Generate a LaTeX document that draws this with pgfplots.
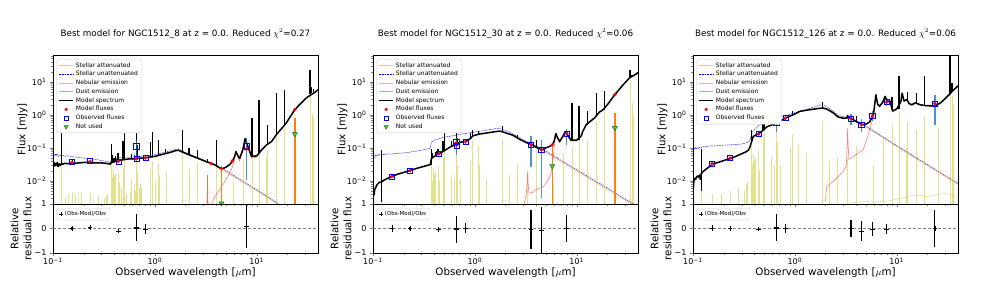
\documentclass[border=0pt]{standalone}
\usepackage{fontspec}
\setmainfont{DejaVu Sans}
\usepackage{pgfplots}
\pgfplotsset{compat=1.18}
\definecolor{cz}{HTML}{1F77B4}
\definecolor{co}{HTML}{FF7F0E}
\definecolor{neb}{rgb}{0.75,0.75,0}
\definecolor{mpgreen}{rgb}{0,0.5,0}
\definecolor{nufill}{rgb}{0.35,0.75,0.3}
\tikzset{
 stell/.style={orange, line width=0.6pt, opacity=0.6},
 unatt/.style={blue, line width=0.5pt, opacity=0.8, dash pattern=on 1.9pt off 0.8pt},
 nebst/.style={neb, line width=0.6pt, opacity=0.45},
 dustst/.style={red, line width=0.6pt, opacity=0.5},
 modst/.style={black, line width=1.5pt, line join=round},
 spst/.style={black, line width=1.3pt},
 errst/.style={cz, line width=1.5pt, opacity=0.8},
 nuerr/.style={co, line width=1.5pt},
 ticklab/.style={font=\fontsize{8}{9.5}\selectfont},
}
\begin{document}
\begin{tikzpicture}
\path[use as bounding box] (0,0) rectangle (981pt,307pt);
%==================== PANEL 1 ====================
\begin{axis}[at={(53pt,103pt)}, anchor=south west,
 scale only axis, width=265pt, height=149pt,
 xmode=log, ymode=log, xmin=0.1, xmax=40, ymin=0.002, ymax=64,
 xtick={0.1,1,10}, xticklabels={},
 minor xtick={0.2,0.3,0.4,0.5,0.6,0.7,0.8,0.9,2,3,4,5,6,7,8,9,20,30},
 ytick={0.01,0.1,1,10},
 yticklabels={10\textsuperscript{−2},10\textsuperscript{−1},10\textsuperscript{0},10\textsuperscript{1}},
 minor ytick={0.003,0.004,0.005,0.006,0.007,0.008,0.009,0.02,0.03,0.04,0.05,0.06,0.07,0.08,0.09,0.2,0.3,0.4,0.5,0.6,0.7,0.8,0.9,2,3,4,5,6,7,8,9,20,30,40,50,60},
 tick align=outside, xtick pos=left, ytick pos=left,
 major tick length=3pt, minor tick length=1.8pt,
 axis line style={line width=0.6pt},
 tick label style={ticklab},
 ylabel={Flux [mJy]},
 ylabel style={at={(axis description cs:-0.083,0.5)}, font=\fontsize{10.3}{12}\selectfont},
 title={Best model for NGC1512\_8 at z = 0.0. Reduced $\chi^2$=0.27},
 title style={font=\fontsize{8.8}{10}\selectfont, at={(axis description cs:0.5,1)}, anchor=center, yshift=15pt},
 legend cell align=left,
 legend image code/.code={\draw[mark repeat=2,mark phase=2,#1] plot coordinates {(0pt,0pt) (7pt,0pt) (14pt,0pt)};},
 legend style={at={(0.014,0.971)}, anchor=north west, draw=black!18, line width=0.4pt, rounded corners=1.5pt, fill=white, font=\fontsize{6}{7}\selectfont, inner xsep=1.5pt, inner ysep=1pt, row sep=-1.3pt},
]
\addlegendimage{color=orange, opacity=0.5, line width=1.2pt}\addlegendentry{Stellar attenuated}
\addlegendimage{color=blue, line width=0.6pt, dash pattern=on 1.9pt off 0.8pt}\addlegendentry{Stellar unattenuated}
\addlegendimage{color=neb, opacity=0.7, line width=0.7pt}\addlegendentry{Nebular emission}
\addlegendimage{color=red, opacity=0.45, line width=1.2pt}\addlegendentry{Dust emission}
\addlegendimage{color=black, line width=1.5pt}\addlegendentry{Model spectrum}
\addlegendimage{only marks, mark=*, mark size=1.4pt, red, mark options={draw=red, fill=red}}\addlegendentry{Model fluxes}
\addlegendimage{only marks, mark=square, mark size=2pt, blue, mark options={draw=blue, line width=0.6pt}}\addlegendentry{Observed fluxes}
\addlegendimage{only marks, mark=triangle*, mark size=2.4pt, mark options={rotate=180, draw=mpgreen, fill=nufill}}\addlegendentry{Not used}
\addplot[stell, forget plot] coordinates {(0.100,0.030)(0.11,0.033)(0.12,0.031)(0.15,0.034)(0.20,0.035)(0.30,0.034)(0.365,0.031)(0.375,0.036)(0.45,0.041)(0.60,0.045)(0.85,0.050)(1.0,0.054)(1.2,0.063)(1.6,0.080)(1.7,0.083)(1.8,0.076)(2.0,0.066)(2.37,0.053)(2.8,0.043)(3.6,0.032)(4.57,0.022)(6,0.0132)(8,0.0077)(10,0.005)(14,0.0026)(17,0.0018)(20,0.0013)(30,0.0006)(40,0.00035)};
\addplot[unatt, forget plot] coordinates {(0.100,0.050)(0.102,0.062)(0.104,0.055)(0.106,0.066)(0.108,0.058)(0.110,0.064)(0.113,0.055)(0.116,0.060)(0.12,0.056)(0.125,0.060)(0.13,0.055)(0.14,0.057)(0.15,0.055)(0.17,0.052)(0.20,0.049)(0.23,0.047)(0.26,0.045)(0.30,0.041)(0.33,0.039)(0.355,0.037)(0.365,0.036)(0.375,0.042)(0.40,0.046)(0.45,0.050)(0.50,0.052)(0.60,0.053)(0.70,0.055)(0.85,0.057)(1.0,0.062)(1.2,0.071)(1.4,0.080)(1.6,0.090)(1.7,0.093)(1.8,0.085)(2.0,0.073)(2.37,0.058)(2.8,0.047)(3.2,0.039)(3.6,0.034)(4.0,0.029)(4.57,0.024)(6,0.0143)(8,0.0083)(10,0.0054)(14,0.0028)(17,0.0019)(20,0.0014)(30,0.00065)(40,0.00038)};
\addplot[nebst, forget plot] coordinates {(0.1216,1e-4)(0.1216,0.035)(0.1216,1e-4)(0.1335,1e-4)(0.1335,0.003)(0.1335,1e-4)(0.1406,1e-4)(0.1406,0.0042)(0.1406,1e-4)(0.1549,1e-4)(0.1549,0.0045)(0.1549,1e-4)(0.1640,1e-4)(0.1640,0.004)(0.1640,1e-4)(0.1760,1e-4)(0.1760,0.0047)(0.1760,1e-4)(0.1909,1e-4)(0.1909,0.0045)(0.1909,1e-4)(0.2326,1e-4)(0.2326,0.0045)(0.2326,1e-4)(0.2470,1e-4)(0.2470,0.003)(0.2470,1e-4)(0.2800,1e-4)(0.2800,0.0035)(0.2800,1e-4)(0.3203,1e-4)(0.3203,0.003)(0.3203,1e-4)(0.3346,1e-4)(0.3346,0.0035)(0.3346,1e-4)(0.3426,1e-4)(0.3426,0.004)(0.3426,1e-4)(0.3727,1e-4)(0.3727,0.034)(0.3727,1e-4)(0.3750,1e-4)(0.3750,0.012)(0.3750,1e-4)(0.3771,1e-4)(0.3771,0.015)(0.3771,1e-4)(0.3798,1e-4)(0.3798,0.010)(0.3798,1e-4)(0.3835,1e-4)(0.3835,0.013)(0.3835,1e-4)(0.3869,1e-4)(0.3869,0.022)(0.3869,1e-4)(0.3889,1e-4)(0.3889,0.018)(0.3889,1e-4)(0.3970,1e-4)(0.3970,0.014)(0.3970,1e-4)(0.4026,1e-4)(0.4026,0.006)(0.4026,1e-4)(0.4069,1e-4)(0.4069,0.008)(0.4069,1e-4)(0.4102,1e-4)(0.4102,0.016)(0.4102,1e-4)(0.4340,1e-4)(0.4340,0.019)(0.4340,1e-4)(0.4363,1e-4)(0.4363,0.008)(0.4363,1e-4)(0.4471,1e-4)(0.4471,0.009)(0.4471,1e-4)(0.4686,1e-4)(0.4686,0.006)(0.4686,1e-4)(0.4861,1e-4)(0.4861,0.025)(0.4861,1e-4)(0.4959,1e-4)(0.4959,0.017)(0.4959,1e-4)(0.5007,1e-4)(0.5007,0.043)(0.5007,1e-4)(0.5200,1e-4)(0.5200,0.004)(0.5200,1e-4)(0.5755,1e-4)(0.5755,0.0045)(0.5755,1e-4)(0.5876,1e-4)(0.5876,0.012)(0.5876,1e-4)(0.6300,1e-4)(0.6300,0.008)(0.6300,1e-4)(0.6363,1e-4)(0.6363,0.005)(0.6363,1e-4)(0.6548,1e-4)(0.6548,0.016)(0.6548,1e-4)(0.6563,1e-4)(0.6563,0.045)(0.6563,1e-4)(0.6584,1e-4)(0.6584,0.025)(0.6584,1e-4)(0.6678,1e-4)(0.6678,0.007)(0.6678,1e-4)(0.6716,1e-4)(0.6716,0.018)(0.6716,1e-4)(0.6731,1e-4)(0.6731,0.014)(0.6731,1e-4)(0.7065,1e-4)(0.7065,0.006)(0.7065,1e-4)(0.7136,1e-4)(0.7136,0.008)(0.7136,1e-4)(0.7320,1e-4)(0.7320,0.006)(0.7320,1e-4)(0.9069,1e-4)(0.9069,0.025)(0.9069,1e-4)(0.9531,1e-4)(0.9531,0.040)(0.9531,1e-4)(1.005,1e-4)(1.005,0.010)(1.005,1e-4)(1.083,1e-4)(1.083,0.035)(1.083,1e-4)(1.094,1e-4)(1.094,0.015)(1.094,1e-4)(1.282,1e-4)(1.282,0.018)(1.282,1e-4)(1.875,1e-4)(1.875,0.087)(1.875,1e-4)(2.166,1e-4)(2.166,0.024)(2.166,1e-4)(2.626,1e-4)(2.626,0.038)(2.626,1e-4)(3.297,1e-4)(3.297,0.015)(3.297,1e-4)(4.052,1e-4)(4.052,0.055)(4.052,1e-4)(5.90,1e-4)(5.90,0.0086)(5.90,1e-4)(7.46,1e-4)(7.46,0.043)(7.46,1e-4)(8.99,1e-4)(8.99,0.069)(8.99,1e-4)(10.51,1e-4)(10.51,0.11)(10.51,1e-4)(12.37,1e-4)(12.37,0.05)(12.37,1e-4)(12.81,1e-4)(12.81,0.087)(12.81,1e-4)(15.56,1e-4)(15.56,0.28)(15.56,1e-4)(18.71,1e-4)(18.71,0.63)(18.71,1e-4)(33.48,1e-4)(33.48,5.1)(33.48,1e-4)(34.81,1e-4)(34.81,1.0)(34.81,1e-4)(36.01,1e-4)(36.01,0.8)(36.01,1e-4)};
\addplot[dustst, forget plot] coordinates {(3.20,0.0005)(3.27,0.004)(3.29,0.015)(3.31,0.004)(3.36,0.0005)(3.6,0.0017)(3.8,0.003)(4.3,0.0053)(5.0,0.011)(5.43,0.017)(5.8,0.027)(6.08,0.045)(6.25,0.07)(6.5,0.052)(6.8,0.040)(7.3,0.078)(7.7,0.18)(8.2,0.10)(8.9,0.049)(10,0.052)(11.2,0.082)(12.5,0.118)(14,0.150)(15.6,0.245)(19.5,0.555)(23.6,1.41)(30.6,3.2)(38.5,5.1)(40,5.7)};
\addplot[modst, forget plot] coordinates {(0.100,0.031)(0.102,0.036)(0.104,0.028)(0.106,0.034)(0.108,0.030)(0.110,0.036)(0.112,0.027)(0.115,0.033)(0.118,0.029)(0.121,0.034)(0.125,0.032)(0.13,0.034)(0.14,0.033)(0.15,0.035)(0.16,0.034)(0.18,0.035)(0.20,0.036)(0.23,0.036)(0.26,0.035)(0.30,0.035)(0.33,0.034)(0.355,0.033)(0.365,0.032)(0.375,0.037)(0.39,0.036)(0.41,0.040)(0.43,0.038)(0.45,0.042)(0.50,0.044)(0.55,0.046)(0.60,0.046)(0.66,0.047)(0.75,0.049)(0.85,0.051)(1.0,0.055)(1.2,0.064)(1.4,0.072)(1.6,0.082)(1.7,0.085)(1.8,0.078)(2.0,0.068)(2.37,0.055)(2.8,0.045)(3.2,0.038)(3.6,0.034)(4.0,0.029)(4.3,0.025)(4.57,0.023)(5.0,0.026)(5.43,0.031)(5.8,0.040)(6.08,0.055)(6.25,0.077)(6.5,0.060)(6.8,0.048)(7.3,0.087)(7.7,0.19)(8.2,0.11)(8.9,0.055)(10,0.057)(11.2,0.087)(12.5,0.123)(14,0.155)(15.6,0.25)(19.5,0.56)(23.6,1.42)(30.6,3.2)(38.5,5.1)(40,5.7)};
\addplot[spst, forget plot, unbounded coords=jump] coordinates {(0.1216,0.033)(0.1216,0.45)(0.1216,nan)(0.1549,0.035)(0.1549,0.045)(0.1549,nan)(0.3727,0.034)(0.3727,0.13)(0.3727,nan)(0.3869,0.036)(0.3869,0.06)(0.3869,nan)(0.3970,0.037)(0.3970,0.05)(0.3970,nan)(0.4102,0.040)(0.4102,0.055)(0.4102,nan)(0.4340,0.039)(0.4340,0.07)(0.4340,nan)(0.4861,0.043)(0.4861,0.16)(0.4861,nan)(0.4959,0.044)(0.4959,0.09)(0.4959,nan)(0.5007,0.044)(0.5007,0.30)(0.5007,nan)(0.5876,0.046)(0.5876,0.065)(0.5876,nan)(0.6300,0.046)(0.6300,0.06)(0.6300,nan)(0.6563,0.047)(0.6563,0.63)(0.6563,nan)(0.6716,0.047)(0.6716,0.12)(0.6716,nan)(0.9069,0.052)(0.9069,0.15)(0.9069,nan)(0.9531,0.054)(0.9531,0.30)(0.9531,nan)(1.083,0.058)(1.083,0.17)(1.083,nan)(1.282,0.066)(1.282,0.09)(1.282,nan)(1.875,0.075)(1.875,0.35)(1.875,nan)(2.166,0.063)(2.166,0.10)(2.166,nan)(2.626,0.048)(2.626,0.085)(2.626,nan)(3.297,0.037)(3.297,0.045)(3.297,nan)(4.052,0.028)(4.052,0.17)(4.052,nan)(8.99,0.055)(8.99,0.79)(8.99,nan)(10.51,0.065)(10.51,2.85)(10.51,nan)(12.81,0.125)(12.81,0.5)(12.81,nan)(15.56,0.25)(15.56,4.5)(15.56,nan)(18.71,0.50)(18.71,5.7)(18.71,nan)(33.48,4.2)(33.48,23)(33.48,nan)(34.81,4.6)(34.81,7)(34.81,nan)(36.0,4.9)(36.0,6)};
\addplot[errst, forget plot, unbounded coords=jump] coordinates {(0.154,0.034)(0.154,0.040)(0.154,nan)(0.657,0.05)(0.657,0.17)(0.657,nan)(0.81,0.04)(0.81,0.06)(0.81,nan)(7.96,0.011)(7.96,0.195)};
\addplot[nuerr, forget plot, unbounded coords=jump] coordinates {(4.5,0.0015)(4.5,0.022)(4.5,nan)(23.7,0.0015)(23.7,0.8)};
\addplot[only marks, mark=*, mark size=1.5pt, red, mark options={draw=red, fill=red}, forget plot] coordinates {(0.154,0.036)(0.231,0.039)(0.44,0.040)(0.657,0.046)(0.66,0.048)(0.81,0.050)(3.56,0.034)(4.5,0.024)(5.76,0.040)(7.96,0.093)(23.7,1.42)};
\addplot[only marks, mark=square, mark size=2.6pt, blue, mark options={draw=blue, line width=0.7pt}, forget plot] coordinates {(0.154,0.037)(0.231,0.040)(0.44,0.037)(0.657,0.11)(0.66,0.046)(0.81,0.049)(7.96,0.11)};
\addplot[only marks, mark=triangle*, mark size=2.8pt, mark options={rotate=180, draw=mpgreen, fill=nufill, line width=0.5pt}, forget plot] coordinates {(4.5,0.0021)(23.7,0.26)};
\end{axis}
\begin{axis}[at={(53pt,54pt)}, anchor=south west,
 scale only axis, width=265pt, height=49pt,
 xmode=log, xmin=0.1, xmax=40, ymin=-1, ymax=1,
 xtick={0.1,1,10}, xticklabels={10\textsuperscript{−1},10\textsuperscript{0},10\textsuperscript{1}},
 minor xtick={0.2,0.3,0.4,0.5,0.6,0.7,0.8,0.9,2,3,4,5,6,7,8,9,20,30},
 ytick={-1,0,1}, yticklabels={−1,0,1},
 tick align=outside, xtick pos=left, ytick pos=left,
 major tick length=3pt, minor tick length=1.8pt,
 axis line style={line width=0.6pt},
 tick label style={ticklab},
 xticklabel style={inner sep=1.5pt},
 xlabel={Observed wavelength [$\mu$m]},
 xlabel style={at={(axis description cs:0.5,0)}, anchor=center, yshift=-19.5pt, font=\fontsize{10.3}{12}\selectfont},
 ylabel={Relative\\residual flux},
 ylabel style={at={(axis description cs:-0.068,0.5)}, align=center, font=\fontsize{10.3}{13}\selectfont},
 legend cell align=left,
 legend style={at={(0.014,0.918)}, anchor=north west, draw=black!18, line width=0.4pt, rounded corners=1.5pt, fill=white, font=\fontsize{5.5}{6.5}\selectfont, inner xsep=2pt, inner ysep=1pt},
]
\addlegendimage{only marks, mark=+, mark size=2pt, black, mark options={line width=0.8pt}}\addlegendentry{(Obs-Mod)/Obs}
\addplot[gray, line width=0.8pt, dash pattern=on 3pt off 2pt, forget plot] coordinates {(0.1,0)(40,0)};
\addplot[only marks, mark=+, mark size=2.3pt, black, mark options={line width=0.6pt}, forget plot, error bars/.cd, y dir=both, y explicit, error mark=none, error bar style={line width=1.2pt}] coordinates {(0.154,0.0) +- (0,0.08) (0.231,0.04) +- (0,0.04) (0.44,-0.1) +- (0,0.05) (0.657,0.03) +- (0,0.55) (0.66,0.0) +- (0,0.1) (0.81,-0.03) +- (0,0.2) (7.96,0.1) +- (0,0.88)};
\end{axis}
%==================== PANEL 2 ====================
\begin{axis}[at={(373pt,103pt)}, anchor=south west,
 scale only axis, width=265pt, height=149pt,
 xmode=log, ymode=log, xmin=0.1, xmax=40, ymin=0.002, ymax=64,
 xtick={0.1,1,10}, xticklabels={},
 minor xtick={0.2,0.3,0.4,0.5,0.6,0.7,0.8,0.9,2,3,4,5,6,7,8,9,20,30},
 ytick={0.01,0.1,1,10},
 yticklabels={10\textsuperscript{−2},10\textsuperscript{−1},10\textsuperscript{0},10\textsuperscript{1}},
 minor ytick={0.003,0.004,0.005,0.006,0.007,0.008,0.009,0.02,0.03,0.04,0.05,0.06,0.07,0.08,0.09,0.2,0.3,0.4,0.5,0.6,0.7,0.8,0.9,2,3,4,5,6,7,8,9,20,30,40,50,60},
 tick align=outside, xtick pos=left, ytick pos=left,
 major tick length=3pt, minor tick length=1.8pt,
 axis line style={line width=0.6pt},
 tick label style={ticklab},
 ylabel={Flux [mJy]},
 ylabel style={at={(axis description cs:-0.083,0.5)}, font=\fontsize{10.3}{12}\selectfont},
 title={Best model for NGC1512\_30 at z = 0.0. Reduced $\chi^2$=0.06},
 title style={font=\fontsize{8.8}{10}\selectfont, at={(axis description cs:0.5,1)}, anchor=center, yshift=15pt},
 legend cell align=left,
 legend image code/.code={\draw[mark repeat=2,mark phase=2,#1] plot coordinates {(0pt,0pt) (7pt,0pt) (14pt,0pt)};},
 legend style={at={(0.014,0.971)}, anchor=north west, draw=black!18, line width=0.4pt, rounded corners=1.5pt, fill=white, font=\fontsize{6}{7}\selectfont, inner xsep=1.5pt, inner ysep=1pt, row sep=-1.3pt},
]
\addlegendimage{color=orange, opacity=0.5, line width=1.2pt}\addlegendentry{Stellar attenuated}
\addlegendimage{color=blue, line width=0.6pt, dash pattern=on 1.9pt off 0.8pt}\addlegendentry{Stellar unattenuated}
\addlegendimage{color=neb, opacity=0.7, line width=0.7pt}\addlegendentry{Nebular emission}
\addlegendimage{color=red, opacity=0.45, line width=1.2pt}\addlegendentry{Dust emission}
\addlegendimage{color=black, line width=1.5pt}\addlegendentry{Model spectrum}
\addlegendimage{only marks, mark=*, mark size=1.4pt, red, mark options={draw=red, fill=red}}\addlegendentry{Model fluxes}
\addlegendimage{only marks, mark=square, mark size=2pt, blue, mark options={draw=blue, line width=0.6pt}}\addlegendentry{Observed fluxes}
\addlegendimage{only marks, mark=triangle*, mark size=2.4pt, mark options={rotate=180, draw=mpgreen, fill=nufill}}\addlegendentry{Not used}
\addplot[stell, forget plot] coordinates {(0.100,0.0032)(0.104,0.0055)(0.11,0.0078)(0.12,0.0090)(0.14,0.012)(0.2,0.018)(0.31,0.027)(0.365,0.031)(0.375,0.048)(0.44,0.066)(0.57,0.105)(0.66,0.135)(0.83,0.16)(0.96,0.23)(1.3,0.28)(1.76,0.32)(2.1,0.27)(2.76,0.18)(3.6,0.123)(4.6,0.085)(6,0.051)(8,0.030)(10,0.020)(15,0.0094)(20,0.0056)(30,0.0026)(40,0.0016)};
\addplot[unatt, forget plot] coordinates {(0.100,0.028)(0.101,0.045)(0.102,0.055)(0.104,0.050)(0.106,0.060)(0.108,0.056)(0.110,0.062)(0.113,0.058)(0.116,0.063)(0.12,0.060)(0.125,0.064)(0.13,0.062)(0.14,0.066)(0.15,0.064)(0.17,0.068)(0.20,0.070)(0.23,0.074)(0.27,0.080)(0.31,0.086)(0.35,0.094)(0.365,0.097)(0.375,0.15)(0.40,0.17)(0.45,0.19)(0.50,0.21)(0.60,0.23)(0.70,0.25)(0.80,0.27)(1.0,0.30)(1.3,0.34)(1.6,0.38)(1.76,0.38)(1.9,0.35)(2.1,0.31)(2.4,0.26)(2.76,0.20)(3.1,0.165)(3.6,0.135)(4.1,0.11)(4.6,0.092)(6,0.0557)(8,0.0329)(10,0.0217)(15,0.0102)(20,0.0061)(30,0.0028)(40,0.0017)};
\addplot[nebst, forget plot] coordinates {(0.1216,1e-4)(0.1216,0.004)(0.1216,1e-4)(0.3727,1e-4)(0.3727,0.04)(0.3727,1e-4)(0.3750,1e-4)(0.3750,0.012)(0.3750,1e-4)(0.3771,1e-4)(0.3771,0.010)(0.3771,1e-4)(0.3798,1e-4)(0.3798,0.008)(0.3798,1e-4)(0.3835,1e-4)(0.3835,0.01)(0.3835,1e-4)(0.3869,1e-4)(0.3869,0.025)(0.3869,1e-4)(0.3889,1e-4)(0.3889,0.02)(0.3889,1e-4)(0.3970,1e-4)(0.3970,0.015)(0.3970,1e-4)(0.4102,1e-4)(0.4102,0.02)(0.4102,1e-4)(0.4340,1e-4)(0.4340,0.03)(0.4340,1e-4)(0.4471,1e-4)(0.4471,0.01)(0.4471,1e-4)(0.4861,1e-4)(0.4861,0.05)(0.4861,1e-4)(0.4959,1e-4)(0.4959,0.04)(0.4959,1e-4)(0.5007,1e-4)(0.5007,0.10)(0.5007,1e-4)(0.5876,1e-4)(0.5876,0.015)(0.5876,1e-4)(0.6300,1e-4)(0.6300,0.012)(0.6300,1e-4)(0.6548,1e-4)(0.6548,0.03)(0.6548,1e-4)(0.6563,1e-4)(0.6563,0.087)(0.6563,1e-4)(0.6584,1e-4)(0.6584,0.05)(0.6584,1e-4)(0.6716,1e-4)(0.6716,0.03)(0.6716,1e-4)(0.6731,1e-4)(0.6731,0.025)(0.6731,1e-4)(0.7136,1e-4)(0.7136,0.012)(0.7136,1e-4)(0.9069,1e-4)(0.9069,0.04)(0.9069,1e-4)(0.9531,1e-4)(0.9531,0.17)(0.9531,1e-4)(1.083,1e-4)(1.083,0.11)(1.083,1e-4)(1.094,1e-4)(1.094,0.03)(1.094,1e-4)(1.282,1e-4)(1.282,0.012)(1.282,1e-4)(1.875,1e-4)(1.875,0.17)(1.875,1e-4)(2.166,1e-4)(2.166,0.015)(2.166,1e-4)(2.626,1e-4)(2.626,0.031)(2.626,1e-4)(3.297,1e-4)(3.297,0.01)(3.297,1e-4)(4.052,1e-4)(4.052,0.087)(4.052,1e-4)(5.90,1e-4)(5.90,0.01)(5.90,1e-4)(7.46,1e-4)(7.46,0.069)(7.46,1e-4)(8.99,1e-4)(8.99,0.11)(8.99,1e-4)(10.51,1e-4)(10.51,0.195)(10.51,1e-4)(12.81,1e-4)(12.81,0.17)(12.81,1e-4)(15.56,1e-4)(15.56,0.63)(15.56,1e-4)(18.71,1e-4)(18.71,1.6)(18.71,1e-4)(33.48,1e-4)(33.48,13)(33.48,1e-4)(34.81,1e-4)(34.81,2.3)(34.81,1e-4)(36.01,1e-4)(36.01,0.9)(36.01,1e-4)};
\addplot[dustst, forget plot] coordinates {(2.80,0.0005)(3.0,0.0015)(3.2,0.004)(3.27,0.010)(3.3,0.020)(3.34,0.008)(3.4,0.0042)(3.7,0.0045)(4.0,0.0055)(4.7,0.0067)(5.2,0.010)(5.6,0.017)(5.85,0.04)(6.0,0.10)(6.25,0.26)(6.5,0.19)(6.8,0.145)(7.3,0.21)(7.7,0.29)(7.9,0.29)(8.3,0.21)(8.8,0.16)(9.5,0.16)(10,0.16)(11.1,0.22)(11.4,0.29)(12.4,0.49)(13.3,0.59)(15,0.79)(16.7,1.19)(18.1,1.4)(20,2.0)(23.6,4.0)(28,7.5)(33,13)(38.4,17)(40,19)};
\addplot[modst, forget plot] coordinates {(0.100,0.0032)(0.101,0.0045)(0.1025,0.0038)(0.104,0.0055)(0.106,0.0062)(0.108,0.0070)(0.110,0.0078)(0.113,0.0085)(0.116,0.0092)(0.12,0.0090)(0.125,0.0100)(0.13,0.0108)(0.14,0.0120)(0.152,0.0135)(0.17,0.0155)(0.20,0.0180)(0.23,0.0205)(0.27,0.024)(0.31,0.027)(0.35,0.030)(0.365,0.031)(0.375,0.048)(0.39,0.052)(0.41,0.058)(0.44,0.066)(0.48,0.075)(0.52,0.088)(0.57,0.105)(0.62,0.12)(0.66,0.135)(0.74,0.15)(0.83,0.16)(0.90,0.19)(0.96,0.23)(1.1,0.26)(1.3,0.28)(1.5,0.30)(1.76,0.32)(1.9,0.30)(2.1,0.27)(2.37,0.24)(2.76,0.18)(3.1,0.15)(3.6,0.125)(4.1,0.10)(4.6,0.087)(5.0,0.10)(5.43,0.11)(5.7,0.12)(6.0,0.155)(6.25,0.27)(6.5,0.20)(6.8,0.155)(7.3,0.22)(7.7,0.30)(7.9,0.30)(8.3,0.22)(8.8,0.17)(9.5,0.17)(10,0.17)(11.1,0.23)(11.4,0.30)(12.4,0.50)(13.3,0.60)(15,0.80)(16.7,1.20)(18.1,1.4)(20,2.0)(23.6,4.0)(28,7.5)(33,13)(38.4,17)(40,19)};
\addplot[spst, forget plot, unbounded coords=jump] coordinates {(0.1216,0.0023)(0.1216,0.085)(0.1216,nan)(0.3727,0.031)(0.3727,0.09)(0.3727,nan)(0.3869,0.05)(0.3869,0.07)(0.3869,nan)(0.4102,0.057)(0.4102,0.075)(0.4102,nan)(0.4340,0.062)(0.4340,0.09)(0.4340,nan)(0.4861,0.077)(0.4861,0.16)(0.4861,nan)(0.5007,0.085)(0.5007,0.40)(0.5007,nan)(0.5876,0.11)(0.5876,0.16)(0.5876,nan)(0.6563,0.135)(0.6563,0.44)(0.6563,nan)(0.6716,0.14)(0.6716,0.2)(0.6716,nan)(0.9069,0.19)(0.9069,0.28)(0.9069,nan)(0.9531,0.22)(0.9531,0.35)(0.9531,nan)(1.083,0.25)(1.083,0.32)(1.083,nan)(1.875,0.30)(1.875,0.45)(1.875,nan)(2.626,0.20)(2.626,0.24)(2.626,nan)(4.052,0.10)(4.052,0.17)(4.052,nan)(8.99,0.17)(8.99,2.3)(8.99,nan)(10.51,0.17)(10.51,1.9)(10.51,nan)(12.81,0.52)(12.81,1.3)(12.81,nan)(15.56,0.85)(15.56,4.5)(15.56,nan)(18.71,1.4)(18.71,5.1)(18.71,nan)(33.48,13)(33.48,23)(33.48,nan)(34.81,14)(34.81,16)};
\addplot[errst, forget plot, unbounded coords=jump] coordinates {(0.154,0.012)(0.154,0.0155)(0.154,nan)(0.657,0.06)(0.657,0.2)(0.657,nan)(0.81,0.13)(0.81,0.18)(0.81,nan)(3.56,0.027)(3.56,0.23)(3.56,nan)(4.5,0.003)(4.5,0.17)(4.5,nan)(7.96,0.12)(7.96,0.36)};
\addplot[nuerr, forget plot, unbounded coords=jump] coordinates {(5.76,0.0015)(5.76,0.11)(5.76,nan)(23.7,0.0015)(23.7,1.12)};
\addplot[only marks, mark=*, mark size=1.5pt, red, mark options={draw=red, fill=red}, forget plot] coordinates {(0.154,0.0135)(0.231,0.0205)(0.44,0.066)(0.657,0.14)(0.66,0.118)(0.81,0.155)(3.56,0.123)(4.5,0.087)(5.76,0.123)(7.96,0.27)(23.7,4.0)};
\addplot[only marks, mark=square, mark size=2.6pt, blue, mark options={draw=blue, line width=0.7pt}, forget plot] coordinates {(0.154,0.0135)(0.231,0.0205)(0.44,0.066)(0.657,0.15)(0.66,0.115)(0.81,0.155)(3.56,0.125)(4.5,0.085)(7.96,0.265)};
\addplot[only marks, mark=triangle*, mark size=2.8pt, mark options={rotate=180, draw=mpgreen, fill=nufill, line width=0.5pt}, forget plot] coordinates {(5.76,0.028)(23.7,0.4)};
\end{axis}
\begin{axis}[at={(373pt,54pt)}, anchor=south west,
 scale only axis, width=265pt, height=49pt,
 xmode=log, xmin=0.1, xmax=40, ymin=-1, ymax=1,
 xtick={0.1,1,10}, xticklabels={10\textsuperscript{−1},10\textsuperscript{0},10\textsuperscript{1}},
 minor xtick={0.2,0.3,0.4,0.5,0.6,0.7,0.8,0.9,2,3,4,5,6,7,8,9,20,30},
 ytick={-1,0,1}, yticklabels={−1,0,1},
 tick align=outside, xtick pos=left, ytick pos=left,
 major tick length=3pt, minor tick length=1.8pt,
 axis line style={line width=0.6pt},
 tick label style={ticklab},
 xticklabel style={inner sep=1.5pt},
 xlabel={Observed wavelength [$\mu$m]},
 xlabel style={at={(axis description cs:0.5,0)}, anchor=center, yshift=-19.5pt, font=\fontsize{10.3}{12}\selectfont},
 ylabel={Relative\\residual flux},
 ylabel style={at={(axis description cs:-0.068,0.5)}, align=center, font=\fontsize{10.3}{13}\selectfont},
 legend cell align=left,
 legend style={at={(0.014,0.918)}, anchor=north west, draw=black!18, line width=0.4pt, rounded corners=1.5pt, fill=white, font=\fontsize{5.5}{6.5}\selectfont, inner xsep=2pt, inner ysep=1pt},
]
\addlegendimage{only marks, mark=+, mark size=2pt, black, mark options={line width=0.8pt}}\addlegendentry{(Obs-Mod)/Obs}
\addplot[gray, line width=0.8pt, dash pattern=on 3pt off 2pt, forget plot] coordinates {(0.1,0)(40,0)};
\addplot[only marks, mark=+, mark size=2.3pt, black, mark options={line width=0.6pt}, forget plot, error bars/.cd, y dir=both, y explicit, error mark=none, error bar style={line width=1.2pt}] coordinates {(0.154,0.0) +- (0,0.16) (0.231,0.0) +- (0,0.05) (0.44,-0.04) +- (0,0.03) (0.657,-0.05) +- (0,0.55) (0.66,0.0) +- (0,0.1) (0.81,0.02) +- (0,0.2) (3.56,-0.03) +- (0,0.8) (4.5,-0.07) +- (0,0.95) (7.96,0.0) +- (0,0.56)};
\end{axis}
%==================== PANEL 3 ====================
\begin{axis}[at={(693pt,103pt)}, anchor=south west,
 scale only axis, width=265pt, height=149pt,
 xmode=log, ymode=log, xmin=0.1, xmax=40, ymin=0.002, ymax=64,
 xtick={0.1,1,10}, xticklabels={},
 minor xtick={0.2,0.3,0.4,0.5,0.6,0.7,0.8,0.9,2,3,4,5,6,7,8,9,20,30},
 ytick={0.01,0.1,1,10},
 yticklabels={10\textsuperscript{−2},10\textsuperscript{−1},10\textsuperscript{0},10\textsuperscript{1}},
 minor ytick={0.003,0.004,0.005,0.006,0.007,0.008,0.009,0.02,0.03,0.04,0.05,0.06,0.07,0.08,0.09,0.2,0.3,0.4,0.5,0.6,0.7,0.8,0.9,2,3,4,5,6,7,8,9,20,30,40,50,60},
 tick align=outside, xtick pos=left, ytick pos=left,
 major tick length=3pt, minor tick length=1.8pt,
 axis line style={line width=0.6pt},
 tick label style={ticklab},
 ylabel={Flux [mJy]},
 ylabel style={at={(axis description cs:-0.083,0.5)}, font=\fontsize{10.3}{12}\selectfont},
 title={Best model for NGC1512\_126 at z = 0.0. Reduced $\chi^2$=0.06},
 title style={font=\fontsize{8.8}{10}\selectfont, at={(axis description cs:0.5,1)}, anchor=center, yshift=15pt},
 legend cell align=left,
 legend image code/.code={\draw[mark repeat=2,mark phase=2,#1] plot coordinates {(0pt,0pt) (7pt,0pt) (14pt,0pt)};},
 legend style={at={(0.014,0.971)}, anchor=north west, draw=black!18, line width=0.4pt, rounded corners=1.5pt, fill=white, font=\fontsize{6}{7}\selectfont, inner xsep=1.5pt, inner ysep=1pt, row sep=-1.3pt},
]
\addlegendimage{color=orange, opacity=0.5, line width=1.2pt}\addlegendentry{Stellar attenuated}
\addlegendimage{color=blue, line width=0.6pt, dash pattern=on 1.9pt off 0.8pt}\addlegendentry{Stellar unattenuated}
\addlegendimage{color=neb, opacity=0.7, line width=0.7pt}\addlegendentry{Nebular emission}
\addlegendimage{color=red, opacity=0.45, line width=1.2pt}\addlegendentry{Dust emission}
\addlegendimage{color=black, line width=1.5pt}\addlegendentry{Model spectrum}
\addlegendimage{only marks, mark=*, mark size=1.4pt, red, mark options={draw=red, fill=red}}\addlegendentry{Model fluxes}
\addlegendimage{only marks, mark=square, mark size=2pt, blue, mark options={draw=blue, line width=0.6pt}}\addlegendentry{Observed fluxes}
\addplot[stell, forget plot] coordinates {(0.100,0.004)(0.102,0.010)(0.11,0.014)(0.12,0.016)(0.14,0.025)(0.2,0.041)(0.31,0.069)(0.35,0.085)(0.37,0.13)(0.39,0.21)(0.45,0.27)(0.53,0.42)(0.66,0.57)(0.83,0.80)(1.12,1.24)(1.9,1.56)(2.4,1.10)(2.67,0.84)(3.66,0.74)(4.6,0.49)(6,0.30)(8,0.168)(10,0.109)(15,0.050)(20,0.029)(30,0.0134)(40,0.0078)};
\addplot[unatt, forget plot] coordinates {(0.100,0.080)(0.102,0.10)(0.104,0.088)(0.106,0.105)(0.108,0.095)(0.110,0.10)(0.113,0.092)(0.116,0.105)(0.12,0.10)(0.125,0.11)(0.13,0.105)(0.14,0.112)(0.15,0.115)(0.17,0.115)(0.20,0.12)(0.25,0.125)(0.30,0.13)(0.33,0.14)(0.35,0.15)(0.36,0.165)(0.37,0.22)(0.39,0.33)(0.42,0.40)(0.45,0.50)(0.50,0.58)(0.60,0.70)(0.70,0.84)(0.83,0.95)(1.0,1.15)(1.2,1.35)(1.5,1.65)(1.8,2.0)(1.9,1.95)(2.1,1.7)(2.4,1.25)(2.67,0.95)(3.0,0.87)(3.66,0.80)(4.0,0.66)(4.6,0.53)(6,0.32)(8,0.18)(10,0.117)(15,0.054)(20,0.031)(30,0.0144)(40,0.0084)};
\addplot[nebst, forget plot] coordinates {(0.1216,1e-4)(0.1216,0.0067)(0.1216,1e-4)(0.1549,1e-4)(0.1549,0.004)(0.1549,1e-4)(0.1909,1e-4)(0.1909,0.004)(0.1909,1e-4)(0.2326,1e-4)(0.2326,0.005)(0.2326,1e-4)(0.2800,1e-4)(0.2800,0.006)(0.2800,1e-4)(0.3203,1e-4)(0.3203,0.005)(0.3203,1e-4)(0.3346,1e-4)(0.3346,0.008)(0.3346,1e-4)(0.3426,1e-4)(0.3426,0.01)(0.3426,1e-4)(0.3727,1e-4)(0.3727,0.11)(0.3727,1e-4)(0.3750,1e-4)(0.3750,0.02)(0.3750,1e-4)(0.3771,1e-4)(0.3771,0.03)(0.3771,1e-4)(0.3798,1e-4)(0.3798,0.025)(0.3798,1e-4)(0.3835,1e-4)(0.3835,0.03)(0.3835,1e-4)(0.3869,1e-4)(0.3869,0.05)(0.3869,1e-4)(0.3889,1e-4)(0.3889,0.06)(0.3889,1e-4)(0.3970,1e-4)(0.3970,0.04)(0.3970,1e-4)(0.4026,1e-4)(0.4026,0.012)(0.4026,1e-4)(0.4069,1e-4)(0.4069,0.02)(0.4069,1e-4)(0.4102,1e-4)(0.4102,0.05)(0.4102,1e-4)(0.4340,1e-4)(0.4340,0.09)(0.4340,1e-4)(0.4363,1e-4)(0.4363,0.015)(0.4363,1e-4)(0.4471,1e-4)(0.4471,0.02)(0.4471,1e-4)(0.4861,1e-4)(0.4861,0.2)(0.4861,1e-4)(0.4959,1e-4)(0.4959,0.15)(0.4959,1e-4)(0.5007,1e-4)(0.5007,0.5)(0.5007,1e-4)(0.5876,1e-4)(0.5876,0.05)(0.5876,1e-4)(0.6300,1e-4)(0.6300,0.03)(0.6300,1e-4)(0.6548,1e-4)(0.6548,0.2)(0.6548,1e-4)(0.6563,1e-4)(0.6563,0.89)(0.6563,1e-4)(0.6584,1e-4)(0.6584,0.4)(0.6584,1e-4)(0.6716,1e-4)(0.6716,0.15)(0.6716,1e-4)(0.6731,1e-4)(0.6731,0.12)(0.6731,1e-4)(0.7136,1e-4)(0.7136,0.03)(0.7136,1e-4)(0.9069,1e-4)(0.9069,0.1)(0.9069,1e-4)(0.9531,1e-4)(0.9531,0.25)(0.9531,1e-4)(1.083,1e-4)(1.083,0.12)(1.083,1e-4)(1.282,1e-4)(1.282,0.07)(1.282,1e-4)(1.875,1e-4)(1.875,0.63)(1.875,1e-4)(2.166,1e-4)(2.166,0.04)(2.166,1e-4)(2.626,1e-4)(2.626,0.05)(2.626,1e-4)(3.297,1e-4)(3.297,0.05)(3.297,1e-4)(4.052,1e-4)(4.052,0.11)(4.052,1e-4)(5.90,1e-4)(5.90,0.03)(5.90,1e-4)(7.46,1e-4)(7.46,0.2)(7.46,1e-4)(8.99,1e-4)(8.99,0.5)(8.99,1e-4)(10.51,1e-4)(10.51,1.27)(10.51,1e-4)(12.37,1e-4)(12.37,0.1)(12.37,1e-4)(12.81,1e-4)(12.81,0.6)(12.81,1e-4)(15.56,1e-4)(15.56,0.34)(15.56,1e-4)(18.71,1e-4)(18.71,0.9)(18.71,1e-4)(25.89,1e-4)(25.89,0.4)(25.89,1e-4)(33.48,1e-4)(33.48,5.7)(33.48,1e-4)(34.81,1e-4)(34.81,3.6)(34.81,1e-4)(36.01,1e-4)(36.01,2.0)(36.01,1e-4)};
\addplot[nebst, forget plot] coordinates {(2.5,0.0015)(3.0,0.0019)(4,0.0023)(5,0.0024)(6,0.0023)(7.35,0.0024)(9,0.0026)(11.5,0.003)(13,0.0034)(15.3,0.0037)(17,0.0036)(19.5,0.0033)(22,0.0036)(26.6,0.0040)(30,0.0041)(35,0.0037)(40,0.0033)};
\addplot[dustst, forget plot] coordinates {(2.0,0.0025)(2.05,0.0067)(2.5,0.011)(3.0,0.020)(3.2,0.028)(3.27,0.15)(3.3,0.40)(3.33,0.12)(3.4,0.045)(4.0,0.062)(4.67,0.087)(5.2,0.22)(5.6,0.5)(5.9,0.85)(6.1,2.1)(6.25,3.9)(6.5,2.0)(6.8,1.7)(7.3,2.3)(7.7,3.5)(8.1,2.35)(8.6,2.45)(9.1,1.22)(10,1.42)(11.0,2.4)(11.3,4.4)(11.8,2.5)(12.6,2.8)(13.2,2.1)(14,1.9)(15.3,2.2)(17,1.95)(19,1.85)(22,1.8)(24.3,1.85)(27,2.25)(30,3.05)(32.6,3.95)(36,5.45)(40,7.45)};
\addplot[modst, forget plot] coordinates {(0.100,0.004)(0.1005,0.008)(0.101,0.006)(0.102,0.010)(0.104,0.012)(0.106,0.011)(0.108,0.013)(0.110,0.014)(0.113,0.013)(0.116,0.015)(0.118,0.011)(0.120,0.016)(0.125,0.019)(0.13,0.021)(0.14,0.025)(0.158,0.033)(0.18,0.037)(0.20,0.041)(0.24,0.049)(0.27,0.057)(0.31,0.069)(0.33,0.075)(0.35,0.085)(0.36,0.10)(0.37,0.13)(0.39,0.22)(0.42,0.25)(0.45,0.28)(0.50,0.36)(0.53,0.43)(0.60,0.50)(0.66,0.58)(0.75,0.70)(0.83,0.82)(1.0,1.05)(1.12,1.27)(1.4,1.42)(1.7,1.55)(1.9,1.60)(2.1,1.45)(2.4,1.12)(2.67,0.85)(3.0,0.78)(3.25,0.80)(3.3,0.95)(3.35,0.80)(3.66,0.74)(4.0,0.62)(4.6,0.50)(5.0,0.52)(5.4,0.60)(5.9,0.95)(6.1,2.2)(6.25,4.0)(6.5,2.1)(6.8,1.8)(7.3,2.4)(7.7,3.6)(8.1,2.5)(8.6,2.6)(9.1,1.3)(10,1.5)(11.0,2.5)(11.3,4.5)(11.8,2.6)(12.6,2.9)(13.2,2.2)(14,2.0)(15.3,2.3)(17,2.0)(19,1.9)(22,1.85)(24.3,1.9)(27,2.3)(30,3.1)(32.6,4.0)(36,5.5)(40,7.5)};
\addplot[spst, forget plot, unbounded coords=jump] coordinates {(0.1216,0.005)(0.1216,0.09)(0.1216,nan)(0.3727,0.16)(0.3727,0.35)(0.3727,nan)(0.4861,0.32)(0.4861,0.6)(0.4861,nan)(0.5007,0.36)(0.5007,1.25)(0.5007,nan)(0.6563,0.58)(0.6563,1.0)(0.6563,nan)(0.9531,0.95)(0.9531,1.3)(0.9531,nan)(1.875,1.6)(1.875,2.4)(1.875,nan)(4.052,0.6)(4.052,0.9)(4.052,nan)(8.99,1.5)(8.99,3.5)(8.99,nan)(10.51,1.5)(10.51,15)(10.51,nan)(12.81,2.8)(12.81,5)(12.81,nan)(15.56,2.3)(15.56,4.5)(15.56,nan)(18.71,1.9)(18.71,15)(18.71,nan)(33.48,4.5)(33.48,58)(33.48,nan)(34.81,5)(34.81,9)};
\addplot[errst, forget plot, unbounded coords=jump] coordinates {(0.154,0.029)(0.154,0.037)(0.154,nan)(0.657,0.31)(0.657,1.6)(0.657,nan)(0.81,0.65)(0.81,0.95)(0.81,nan)(3.56,0.5)(3.56,1.07)(3.56,nan)(4.5,0.3)(4.5,0.72)(4.5,nan)(5.76,0.65)(5.76,1.3)(5.76,nan)(7.96,1.9)(7.96,2.9)(7.96,nan)(23.7,0.5)(23.7,4.0)};
\addplot[only marks, mark=*, mark size=1.5pt, red, mark options={draw=red, fill=red}, forget plot] coordinates {(0.154,0.033)(0.231,0.049)(0.44,0.26)(0.657,0.58)(0.66,0.58)(0.81,0.79)(3.56,0.76)(4.5,0.50)(5.76,0.93)(7.96,2.4)(23.7,2.15)};
\addplot[only marks, mark=square, mark size=2.6pt, blue, mark options={draw=blue, line width=0.7pt}, forget plot] coordinates {(0.154,0.033)(0.231,0.049)(0.44,0.26)(0.657,0.57)(0.66,0.59)(0.81,0.79)(3.56,0.76)(4.5,0.50)(5.76,0.93)(7.96,2.4)(23.7,2.15)};
\end{axis}
\begin{axis}[at={(693pt,54pt)}, anchor=south west,
 scale only axis, width=265pt, height=49pt,
 xmode=log, xmin=0.1, xmax=40, ymin=-1, ymax=1,
 xtick={0.1,1,10}, xticklabels={10\textsuperscript{−1},10\textsuperscript{0},10\textsuperscript{1}},
 minor xtick={0.2,0.3,0.4,0.5,0.6,0.7,0.8,0.9,2,3,4,5,6,7,8,9,20,30},
 ytick={-1,0,1}, yticklabels={−1,0,1},
 tick align=outside, xtick pos=left, ytick pos=left,
 major tick length=3pt, minor tick length=1.8pt,
 axis line style={line width=0.6pt},
 tick label style={ticklab},
 xticklabel style={inner sep=1.5pt},
 xlabel={Observed wavelength [$\mu$m]},
 xlabel style={at={(axis description cs:0.5,0)}, anchor=center, yshift=-19.5pt, font=\fontsize{10.3}{12}\selectfont},
 ylabel={Relative\\residual flux},
 ylabel style={at={(axis description cs:-0.068,0.5)}, align=center, font=\fontsize{10.3}{13}\selectfont},
 legend cell align=left,
 legend style={at={(0.014,0.918)}, anchor=north west, draw=black!18, line width=0.4pt, rounded corners=1.5pt, fill=white, font=\fontsize{5.5}{6.5}\selectfont, inner xsep=2pt, inner ysep=1pt},
]
\addlegendimage{only marks, mark=+, mark size=2pt, black, mark options={line width=0.8pt}}\addlegendentry{(Obs-Mod)/Obs}
\addplot[gray, line width=0.8pt, dash pattern=on 3pt off 2pt, forget plot] coordinates {(0.1,0)(40,0)};
\addplot[only marks, mark=+, mark size=2.3pt, black, mark options={line width=0.6pt}, forget plot, error bars/.cd, y dir=both, y explicit, error mark=none, error bar style={line width=1.2pt}] coordinates {(0.154,0.02) +- (0,0.12) (0.231,0.0) +- (0,0.03) (0.44,-0.02) +- (0,0.03) (0.657,0.03) +- (0,0.55) (0.66,0.0) +- (0,0.1) (0.81,0.0) +- (0,0.2) (3.56,0.0) +- (0,0.33) (4.5,-0.1) +- (0,0.4) (5.76,-0.02) +- (0,0.3) (7.96,-0.02) +- (0,0.2) (23.7,0.0) +- (0,0.77)};
\end{axis}
\end{tikzpicture}
\end{document}
